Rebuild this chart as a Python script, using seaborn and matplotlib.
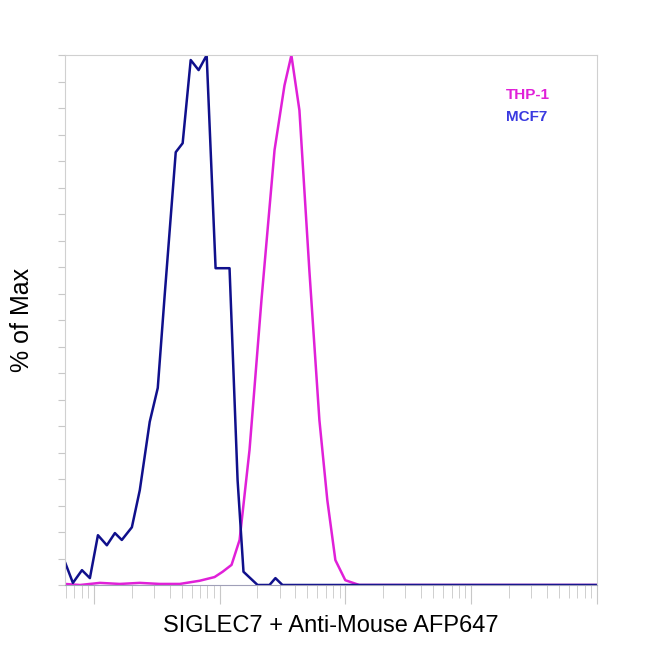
import numpy as np
import pandas as pd
import matplotlib
matplotlib.use('Agg')
import matplotlib.pyplot as plt
import seaborn as sns
from matplotlib.ticker import LogLocator, NullFormatter, MultipleLocator

# fluorescence (log10 units) and % of max
mcf7_log = [0.770, 0.833, 0.905, 0.968, 1.032, 1.103, 1.167, 1.222, 1.302, 1.365, 1.444,
            1.508, 1.563, 1.651, 1.706, 1.770, 1.833, 1.897, 1.968, 2.079, 2.143, 2.190,
            2.302, 2.397, 2.444, 2.500, 5.0]
mcf7_pct = [4.3, 0.4, 2.8, 1.3, 9.4, 7.5, 9.8, 8.5, 10.9, 17.9, 30.8,
            37.2, 54.7, 81.7, 83.4, 99.1, 97.2, 100, 59.8, 59.8, 19.8, 2.5,
            0, 0, 1.3, 0, 0]
thp1_log = [0.770, 0.889, 1.048, 1.206, 1.365, 1.524, 1.683, 1.841, 1.960, 2.024, 2.095,
            2.159, 2.238, 2.333, 2.437, 2.516, 2.571, 2.635, 2.714, 2.794, 2.857, 2.921,
            3.000, 3.111, 5.0]
thp1_pct = [0.2, 0, 0.4, 0.2, 0.4, 0.2, 0.2, 0.8, 1.5, 2.5, 3.8,
            8.5, 25.5, 53.8, 82.1, 94.3, 100, 89.6, 59.4, 31.1, 16.0, 4.7,
            0.9, 0, 0]

sns.set_style('white')
plt.rcParams['font.family'] = ['Liberation Sans', 'DejaVu Sans']

df = pd.concat([
    pd.DataFrame({'x': np.power(10.0, thp1_log), 'y': thp1_pct, 'cell': 'THP-1'}),
    pd.DataFrame({'x': np.power(10.0, mcf7_log), 'y': mcf7_pct, 'cell': 'MCF7'}),
])

fig = plt.figure(figsize=(6.5, 6.5), dpi=100)
ax = fig.add_axes([0.1, 0.1, 0.818, 0.815])
sns.lineplot(data=df, x='x', y='y', hue='cell', sort=False, estimator=None,
             palette={'THP-1': '#e020d8', 'MCF7': '#10108c'}, linewidth=1.8,
             legend=False, ax=ax)

ax.set_xscale('log')
ax.set_xlim(10 ** 0.77, 10 ** 5)
ax.set_ylim(0, 100)
ax.xaxis.set_major_locator(LogLocator(base=10, numticks=10))
ax.xaxis.set_minor_locator(LogLocator(base=10, subs=np.arange(2, 10), numticks=20))
ax.xaxis.set_major_formatter(NullFormatter())
ax.xaxis.set_minor_formatter(NullFormatter())
ax.yaxis.set_major_locator(MultipleLocator(5))
ax.set_yticklabels([])
ax.tick_params(axis='x', which='major', length=14, color='#c8c8c8', direction='out', bottom=True)
ax.tick_params(axis='x', which='minor', length=9, color='#c8c8c8', direction='out', bottom=True)
ax.tick_params(axis='y', length=5, color='#c8c8c8', direction='out', left=True)
for s in ax.spines.values():
    s.set_color('#d0d0d0')
ax.spines['bottom'].set_color('#a0a0b8')

ax.set_xlabel('SIGLEC7 + Anti-Mouse AFP647', fontsize=17, labelpad=4, color='black')
ax.set_ylabel('% of Max', fontsize=18, labelpad=14, color='black')

ax.text(0.83, 0.918, 'THP-1', transform=ax.transAxes, color='#e020d8',
        fontsize=11, fontweight='bold')
ax.text(0.83, 0.876, 'MCF7', transform=ax.transAxes, color='#3a3ae0',
        fontsize=11, fontweight='bold')

fig.savefig('out.png', dpi=100)
